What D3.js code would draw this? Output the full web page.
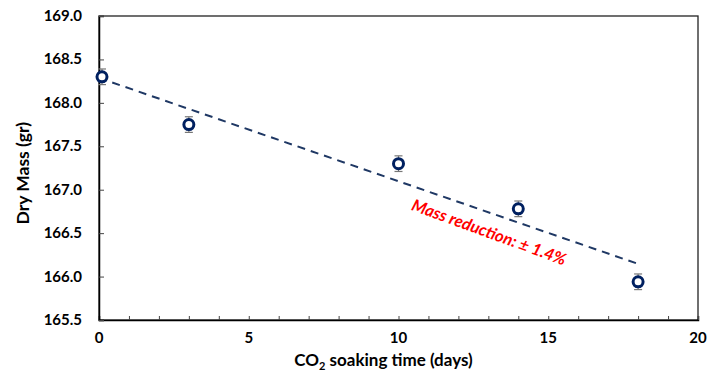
<!DOCTYPE html>
<html>
<head>
<meta charset="utf-8">
<script src="https://cdn.jsdelivr.net/npm/d3@7"></script>
<style>
  body { margin: 0; background: #fff; }
  text { font-family: Lato, "Open Sans", sans-serif; font-weight: bold; }
</style>
</head>
<body>
<script>
'use strict';

// data
const soakDays = [0.1, 3, 10, 14, 18];
const dryMass = [168.30, 167.75, 167.30, 166.78, 165.94];
const massErr = [0.09, 0.09, 0.09, 0.09, 0.09];
const xTicks = [0, 5, 10, 15, 20];
const yTicks = [165.5, 166.0, 166.5, 167.0, 167.5, 168.0, 168.5, 169.0];
const note = "Mass reduction: ± 1.4%";

(function() {
  const width = 707, height = 376;
  const margin = { left: 99, right: 9, top: 16, bottom: 56 };

  let svg = d3.select('body').append('svg')
    .attr('width', width)
    .attr('height', height);

  let x = d3.scaleLinear().domain([0, 20]).range([margin.left, width - margin.right]);
  let y = d3.scaleLinear().domain([165.5, 169.0]).range([height - margin.bottom, margin.top]);

  // box
  svg.append('rect')
    .attr('x', x(0)).attr('y', y(169))
    .attr('width', x(20) - x(0)).attr('height', y(165.5) - y(169))
    .attr('fill', 'none').attr('stroke', '#222').attr('stroke-width', 1.3);

  // x axis, ticks pointing inwards
  let xAxis = svg.append('g')
    .attr('transform', `translate(0, ${y(165.5)})`)
    .call(d3.axisBottom(x).tickValues(d3.range(0, 21, 1)).tickSize(-4).tickFormat(''));
  xAxis.select('.domain').attr('stroke', '#000').attr('stroke-width', 1.5);
  xAxis.selectAll('.tick line').attr('stroke', '#444');

  svg.append('g').selectAll('text')
    .data(xTicks).enter().append('text')
    .attr('x', d => x(d))
    .attr('y', y(165.5) + 23)
    .attr('text-anchor', 'middle')
    .style('font-size', '15px')
    .text(d => d);

  // y axis
  let yAxis = svg.append('g')
    .attr('transform', `translate(${x(0)}, 0)`)
    .call(d3.axisLeft(y).tickValues(yTicks).tickSize(-5).tickFormat(''));
  yAxis.select('.domain').attr('stroke', '#000').attr('stroke-width', 1.5);
  yAxis.selectAll('.tick line').attr('stroke', '#444');

  svg.append('g').selectAll('text')
    .data(yTicks).enter().append('text')
    .attr('x', x(0) - 17)
    .attr('y', d => y(d) + 5)
    .attr('text-anchor', 'end')
    .style('font-size', '15px')
    .text(d => d.toFixed(1));

  // axis titles
  let xt = svg.append('text')
    .attr('x', x(9.5))
    .attr('y', 366)
    .attr('text-anchor', 'middle')
    .style('font-size', '17px');
  xt.append('tspan').text('CO');
  xt.append('tspan').attr('dy', 4).style('font-size', '11px').text('2');
  xt.append('tspan').attr('dy', -4).text(' soaking time (days)');

  svg.append('text')
    .attr('transform', `translate(29, ${y(167.19)})rotate(-90)`)
    .attr('text-anchor', 'middle')
    .style('font-size', '17.5px')
    .text('Dry Mass (gr)');

  // least squares trend line
  let mx = d3.mean(soakDays), my = d3.mean(dryMass);
  let sxy = d3.sum(soakDays, (d, i) => (d - mx) * (dryMass[i] - my));
  let sxx = d3.sum(soakDays, d => (d - mx) * (d - mx));
  let slope = sxy / sxx, icpt = my - slope * mx;
  let trendX = [0, d3.max(soakDays)];
  svg.append('path')
    .datum(trendX)
    .attr('d', d3.line().x(d => x(d)).y(d => y(icpt + slope * d)))
    .attr('fill', 'none')
    .attr('stroke', '#1f3864')
    .attr('stroke-width', 2)
    .attr('stroke-dasharray', '8,6');

  // error bars
  let pts = soakDays.map((d, i) => ({ x: d, y: dryMass[i], e: massErr[i] }));
  let eb = svg.append('g').attr('stroke', '#777').attr('stroke-width', 1.2);
  eb.selectAll('.v').data(pts).enter().append('line')
    .attr('x1', d => x(d.x)).attr('x2', d => x(d.x))
    .attr('y1', d => y(d.y - d.e)).attr('y2', d => y(d.y + d.e));
  eb.selectAll('.top').data(pts).enter().append('line')
    .attr('x1', d => x(d.x) - 4).attr('x2', d => x(d.x) + 4)
    .attr('y1', d => y(d.y + d.e)).attr('y2', d => y(d.y + d.e));
  eb.selectAll('.bot').data(pts).enter().append('line')
    .attr('x1', d => x(d.x) - 4).attr('x2', d => x(d.x) + 4)
    .attr('y1', d => y(d.y - d.e)).attr('y2', d => y(d.y - d.e));

  // markers
  svg.append('g').selectAll('circle')
    .data(pts).enter().append('circle')
    .attr('cx', d => x(d.x))
    .attr('cy', d => y(d.y))
    .attr('r', 5)
    .attr('fill', '#fff')
    .attr('stroke', '#002060')
    .attr('stroke-width', 3);

  // annotation
  svg.append('text')
    .attr('transform', `translate(${x(10.4)}, ${y(166.77)})rotate(20)`)
    .style('font-size', '16.5px')
    .style('font-style', 'italic')
    .attr('fill', '#ff0000')
    .text(note);
})();
</script>
</body>
</html>
